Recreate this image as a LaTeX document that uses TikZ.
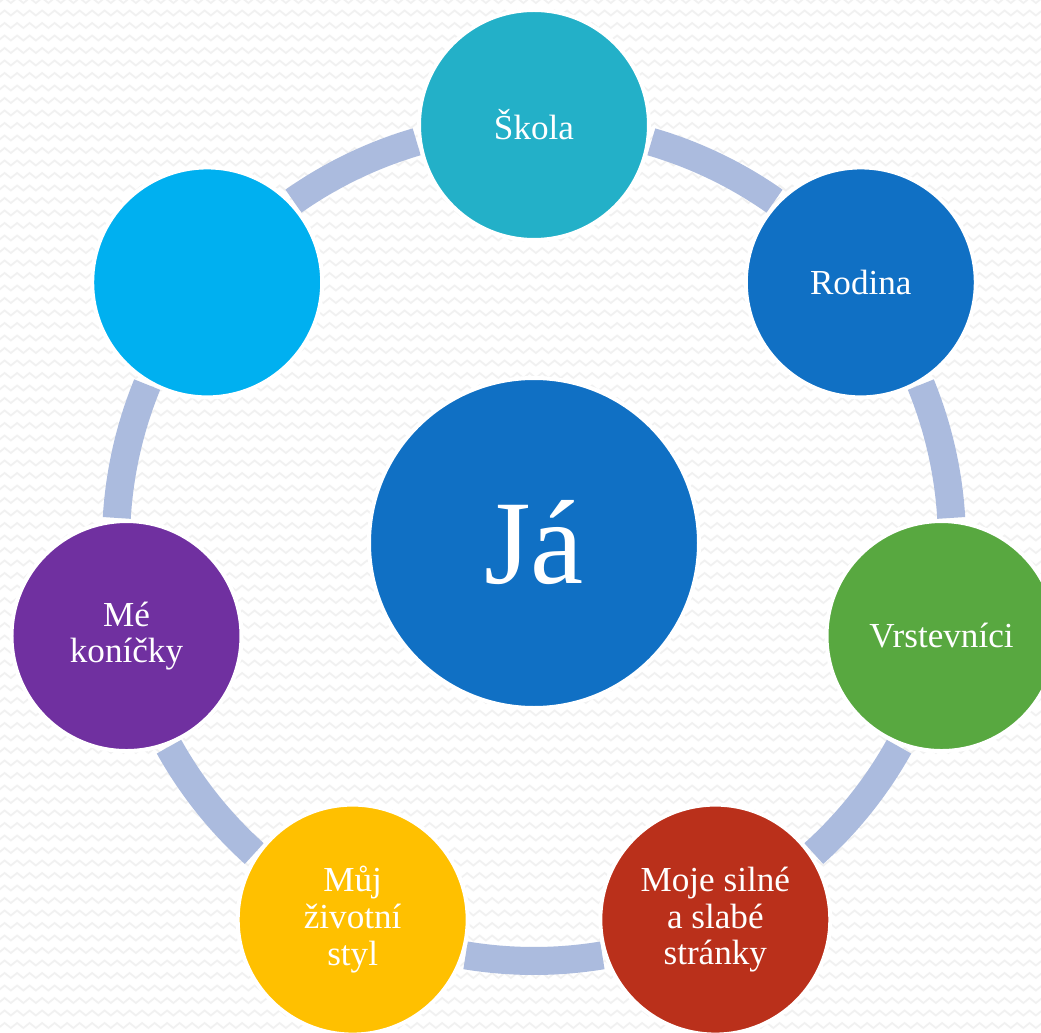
\documentclass[tikz,border=0pt]{standalone}
\usepackage{fontspec}
\setmainfont{Liberation Serif}
\definecolor{ring_c}{rgb}{
	0.6705882352941176, 0.7333333333333333, 0.8705882352941177
	}
\definecolor{back_c}{rgb}{
	0.9450980392156862, 0.9450980392156862, 0.9450980392156862
	}
\definecolor{me_c}{rgb}{
	0.06274509803921569, 0.4392156862745098, 0.7686274509803922
	}
\definecolor{tri_1}{rgb}{
	0.13725490196078433, 0.6901960784313725, 0.7843137254901961
	}
\definecolor{tri_2}{rgb}{
	0.0, 0.6901960784313725, 0.9411764705882353
	}
\definecolor{tri_3}{rgb}{
	0.34509803921568627, 0.6588235294117647, 0.25098039215686274
	}
\definecolor{tri_4}{rgb}{
	0.7294117647058823, 0.18823529411764706, 0.10588235294117647
	}
\definecolor{tri_5}{rgb}{
	1.0, 0.7529411764705882, 0.0
	}
\definecolor{tri_6}{rgb}{
	0.4392156862745098, 0.18823529411764706, 0.6274509803921569
	}
\usetikzlibrary{arrows.meta,
                calc,
                decorations.pathmorphing,
                positioning,
		shapes.geometric}

\begin{document}
\begin{tikzpicture}[
			set/.style = {circle, minimum size = 4.6cm, draw=white, line width=0.08cm,
			              text=white, align=center, font=\fontsize{20}{20.8}\selectfont},
			ring/.style = {draw=ring_c, line width=0.56cm},
			zig/.style = {draw=back_c, line width=0.035cm,
			              decorate, decoration={zigzag, segment length=0.25cm, amplitude=0.05cm}},
			]
			\useasboundingbox (-10.68,-9.78) rectangle (10.14,10.86);
			% background
			\fill[white] (-10.68,-9.78) rectangle (10.14,10.86);
			\begin{scope}
			\clip (-10.68,-9.78) rectangle (10.14,10.86);
			\foreach \y in {-9.9,-9.65,...,11.0}
				\draw[zig] (-10.9,\y) -- (10.4,\y);
			\end{scope}
			% ring
			\foreach \a in {90,38.57,-12.86,-64.29,-115.71,-167.14,141.43}
				\draw[ring] ([shift={({\a-16.3}:8.36)}]0,0)
				      arc[start angle={\a-16.3}, end angle={\a-51.43+16.3}, radius=8.36];
			% circles
			\node[set, minimum size=6.6cm, fill=me_c, font=\fontsize{68}{70}\selectfont] (A) at (0,0) {Já};
			\node[set, fill=tri_1] (B) at (90:8.36) {Škola};
			\node[set, fill=me_c] (C) at (38.57:8.36) {Rodina};
			\node[set, fill=tri_3] (D) at (-12.86:8.36) {Vrstevníci};
			\node[set, fill=tri_4] (E) at (-64.29:8.36) {Moje silné\\a slabé\\stránky};
			\node[set, fill=tri_5] (F) at (-115.71:8.36) {Můj\\životní\\styl};
			\node[set, fill=tri_6] (G) at (-167.14:8.36) {Mé\\koníčky};
			\node[set, fill=tri_2] (H) at (141.43:8.36) {};
		\end{tikzpicture}
\end{document}
